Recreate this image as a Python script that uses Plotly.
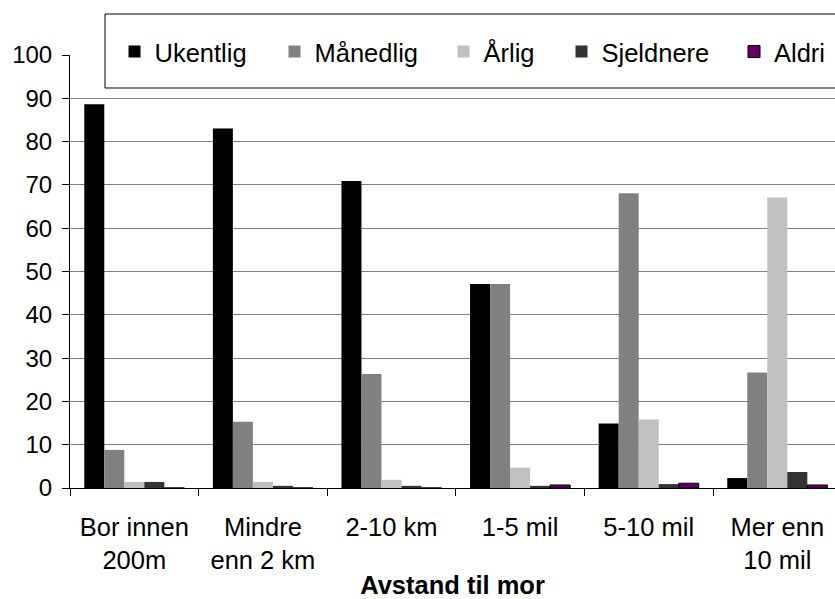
import plotly.graph_objects as go

categories = ["Bor innen<br>200m", "Mindre<br>enn 2 km", "2-10 km", "1-5 mil", "5-10 mil", "Mer enn<br>10 mil"]
series_names = ["Ukentlig", "Månedlig", "Årlig", "Sjeldnere", "Aldri"]
ukentlig = [88.6, 83.0, 70.9, 47.1, 14.9, 2.3]
maanedlig = [8.8, 15.3, 26.3, 47.1, 68.1, 26.7]
aarlig = [1.4, 1.4, 1.9, 4.7, 15.8, 67.1]
sjeldnere = [1.4, 0.5, 0.5, 0.5, 0.9, 3.7]
aldri = [0.0, 0.0, 0.0, 0.7, 1.1, 0.7]
y_ticks = [0, 10, 20, 30, 40, 50, 60, 70, 80, 90, 100]

values = [ukentlig, maanedlig, aarlig, sjeldnere, aldri]
colors = ["#000000", "#808080", "#C0C0C0", "#333333", "#660066"]
outline = [0, 0, 0, 0, 1]
legend_ids = ["legend", "legend2", "legend3", "legend4", "legend5"]

FONT = "Liberation Sans, Arial, sans-serif"
FS = 25.5
L, R, T, B = 70, 0, 55, 111
PW = 835 - L - R
PH = 599 - T - B

def px_x(p):
    return (p - L) / PW

def px_y(p):
    return (599 - B - p) / PH

fig = go.Figure()
for name, vals, col, ow, lid in zip(series_names, values, colors, outline, legend_ids):
    fig.add_trace(go.Bar(
        name=name, x=categories, y=vals, legend=lid,
        marker=dict(color=col, line=dict(color="#000000", width=ow)),
    ))

# legend box
fig.add_shape(type="rect", xref="paper", yref="paper",
              x0=px_x(105), x1=1.05, y0=px_y(88), y1=px_y(14),
              fillcolor="white", line=dict(color="#000000", width=1), layer="above")

square_centers = [136.5, 296.5, 465.5, 583.5, 756]
legends = {}
for lid, c in zip(legend_ids, square_centers):
    legends[lid] = dict(
        orientation="h", x=px_x(c - 22), y=px_y(52), xanchor="left", yanchor="middle",
        bgcolor="rgba(0,0,0,0)", borderwidth=0,
        font=dict(family=FONT, size=FS, color="#000000"), itemwidth=30,
    )

fig.update_layout(
    template="none",
    width=835, height=599,
    barmode="group", bargap=0.222, bargroupgap=0,
    plot_bgcolor="white", paper_bgcolor="white",
    margin=dict(l=L, r=R, t=T, b=B, autoexpand=False),
    font=dict(family=FONT, size=FS, color="#000000"),
    showlegend=True,
    xaxis=dict(
        range=[-0.5, -0.5 + PW / 128.6], showline=True, linecolor="#000000", linewidth=1,
        ticks="outside", ticklen=7, tickcolor="#000000", tickson="boundaries",
        showgrid=False, zeroline=False, automargin=False, ticklabelstandoff=16,
        tickfont=dict(size=FS),
        title=dict(text="<b>Avstand til mor</b>", font=dict(size=FS), standoff=9),
    ),
    yaxis=dict(
        range=[0, 100], tickvals=y_ticks, showline=True, linecolor="#000000", linewidth=1,
        ticks="outside", ticklen=7, tickcolor="#000000", automargin=False,
        ticklabelstandoff=5, tickfont=dict(size=24),
        showgrid=True, gridcolor="#808080", gridwidth=1, zeroline=False,
    ),
    **legends,
)

fig.write_html("out.html", config={"displayModeBar": False},
               post_script="document.body.style.margin='0px';")
